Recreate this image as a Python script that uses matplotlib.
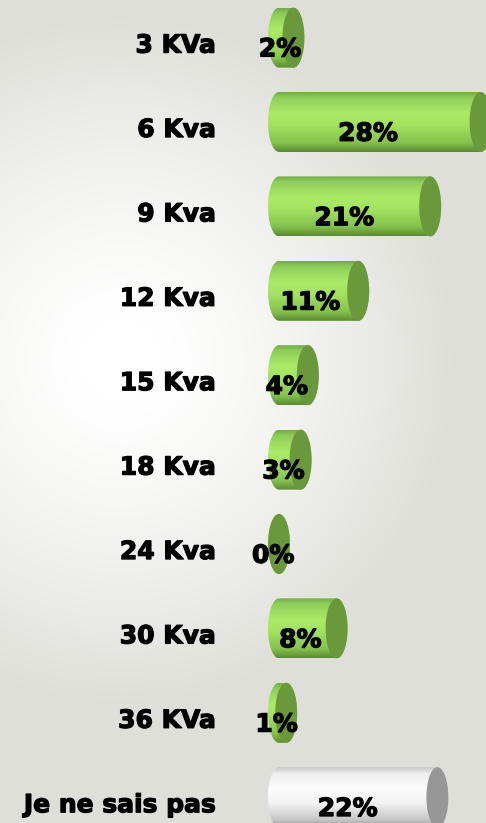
import numpy as np
import matplotlib.pyplot as plt
import matplotlib.patheffects as pe
from matplotlib.patches import Ellipse, Polygon

# data
categories = ['3 KVa', '6 Kva', '9 Kva', '12 Kva', '15 Kva', '18 Kva',
              '24 Kva', '30 Kva', '36 KVa', 'Je ne sais pas']
values = [2, 28, 21, 11, 4, 3, 0, 8, 1, 22]
labels = ['2%', '28%', '21%', '11%', '4%', '3%', '0%', '8%', '1%', '22%']

W, H = 486, 823
fig = plt.figure(figsize=(W / 100, H / 100), dpi=100)
ax = fig.add_axes([0, 0, 1, 1])

# pixel -> data scale
px_per = 7.2
x0_px = 279
y0_px, dy_px = 37.6, 84.4
xlim = (-x0_px / px_per, (W - x0_px) / px_per)
ylim = ((H - y0_px) / dy_px, -y0_px / dy_px)

# background gradient (white glow left-middle, grey elsewhere)
yy, xx = np.mgrid[0:H, 0:W]
d = np.sqrt(((xx - 120) / 330.0) ** 2 + ((yy - 360) / 340.0) ** 2)
t = np.clip((d - 0.12) / 0.88, 0, 1) ** 1.2
c0 = np.array([1.0, 1.0, 1.0])
c1 = np.array([0.878, 0.878, 0.855])
bg = c0[None, None, :] * (1 - t[..., None]) + c1[None, None, :] * t[..., None]
ax.imshow(bg, extent=(xlim[0], xlim[1], ylim[0], ylim[1]), origin='upper',
          aspect='auto', zorder=0)

rx = 11 / px_per   # ellipse half width
hh = 30 / dy_px    # half height

def grad(stops, n=64):
    pos = np.linspace(0, 1, n)
    sp = [s[0] for s in stops]
    cols = np.array([s[1] for s in stops])
    out = np.stack([np.interp(pos, sp, cols[:, k]) for k in range(3)], axis=1)
    return out[:, None, :]

green = grad([(0, (0.45, 0.68, 0.28)), (0.08, (0.55, 0.80, 0.35)),
              (0.35, (0.67, 0.92, 0.40)), (0.55, (0.64, 0.89, 0.38)),
              (0.85, (0.52, 0.76, 0.30)), (1, (0.36, 0.55, 0.20))])
grey = grad([(0, (0.78, 0.78, 0.78)), (0.1, (0.93, 0.93, 0.93)),
             (0.35, (0.99, 0.99, 0.99)), (0.6, (0.95, 0.95, 0.95)),
             (0.88, (0.78, 0.78, 0.78)), (1, (0.60, 0.60, 0.60))])

bold = [pe.withStroke(linewidth=0.9, foreground='black')]

for i, (cat, v, lab) in enumerate(zip(categories, values, labels)):
    yc = i
    last = (i == len(values) - 1)
    img = grey if last else green
    cap = '#979797' if last else '#6a993b'
    th = np.linspace(np.pi / 2, 3 * np.pi / 2, 40)
    left = np.column_stack([rx * np.cos(th), yc + hh * np.sin(th)])
    th2 = np.linspace(-np.pi / 2, np.pi / 2, 40)
    right = np.column_stack([v + rx * np.cos(th2), yc + hh * np.sin(th2)])
    body = Polygon(np.vstack([left, right]), closed=True, facecolor='none',
                   edgecolor='none')
    ax.add_patch(body)
    im = ax.imshow(img, extent=(-rx, v + rx, yc + hh, yc - hh), origin='upper',
                   aspect='auto', zorder=2)
    im.set_clip_path(body)
    ax.add_patch(Ellipse((v, yc), 2 * rx, 2 * hh, facecolor=cap,
                         edgecolor='none', zorder=3))
    ax.text(0.47 * v - 0.8, yc + 0.14, lab, ha='center', va='center',
            fontsize=18, fontweight='bold', color='black', zorder=4,
            path_effects=bold)
    ax.text((216 - x0_px) / px_per, yc + 0.095, cat, ha='right', va='center',
            fontsize=18, fontweight='bold', color='black', zorder=4,
            path_effects=bold)

ax.set_xlim(*xlim)
ax.set_ylim(*ylim)
ax.axis('off')
fig.savefig('out.png', dpi=100)
